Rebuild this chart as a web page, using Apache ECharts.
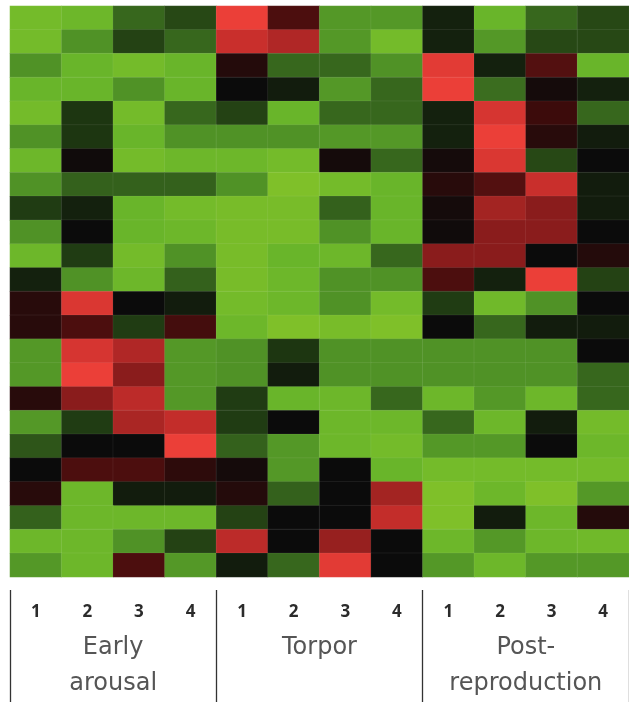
<!DOCTYPE html>
<html>
<head>
<meta charset="utf-8">
<script src="https://cdn.jsdelivr.net/npm/echarts@6/dist/echarts.min.js"></script>
<style>
html,body{margin:0;padding:0;background:#fff;}
#chart{width:629px;height:702px;}
</style>
</head>
<body>
<div id="chart"></div>
<script>
// Column tick labels (replicate number within each condition)
const columnLabels = ['1','2','3','4','1','2','3','4','1','2','3','4'];
// Condition groups spanning 4 columns each
const groupLabels = ['Early\narousal', 'Torpor', 'Post-\nreproduction'];
// Row identifiers (24 genes, top to bottom)
const rowLabels = ['r1','r2','r3','r4','r5','r6','r7','r8','r9','r10','r11','r12',
  'r13','r14','r15','r16','r17','r18','r19','r20','r21','r22','r23','r24'];
// Expression values per row (negative = green, positive = red), 12 columns each
const row01 = [-3.5,-3.3,-1.8,-1.3, 3.8, 1.2,-2.6,-2.6,-0.5,-3.2,-1.8,-1.3];
const row02 = [-3.5,-2.5,-1.2,-1.8, 3.0, 2.6,-2.6,-3.5,-0.5,-2.6,-1.3,-1.3];
const row03 = [-2.5,-3.2,-3.5,-3.2, 0.5,-1.8,-1.8,-2.5, 3.6,-0.5, 1.3,-3.2];
const row04 = [-3.2,-3.2,-2.5,-3.2, 0.0,-0.4,-2.6,-1.8, 3.8,-1.9, 0.2,-0.5];
const row05 = [-3.5,-1.0,-3.5,-1.8,-1.2,-3.2,-1.8,-1.8,-0.5, 3.3, 1.0,-1.8];
const row06 = [-2.5,-1.0,-3.2,-2.5,-2.5,-2.5,-2.6,-2.6,-0.5, 3.8, 0.6,-0.4];
const row07 = [-3.3, 0.1,-3.5,-3.3,-3.3,-3.5, 0.2,-1.8, 0.2, 3.4,-1.3, 0.0];
const row08 = [-2.5,-1.7,-1.7,-1.7,-2.5,-3.8,-3.5,-3.2, 0.6, 1.3, 3.0,-0.4];
const row09 = [-1.1,-0.5,-3.2,-3.5,-3.6,-3.6,-1.7,-3.2, 0.2, 2.4, 2.0,-0.4];
const row10 = [-2.5, 0.0,-3.2,-3.3,-3.6,-3.6,-2.5,-3.2, 0.1, 2.0, 2.0, 0.0];
const row11 = [-3.3,-1.1,-3.5,-2.5,-3.6,-3.2,-3.3,-1.8, 2.0, 2.0, 0.0, 0.5];
const row12 = [-0.5,-2.5,-3.3,-1.7,-3.6,-3.3,-2.5,-2.5, 1.2,-0.5, 3.8,-1.2];
const row13 = [ 0.6, 3.4, 0.0,-0.4,-3.5,-3.3,-2.5,-3.5,-1.1,-3.4,-2.5, 0.0];
const row14 = [ 0.6, 1.2,-1.1, 1.1,-3.3,-3.8,-3.6,-3.8, 0.0,-1.8,-0.4,-0.4];
const row15 = [-2.6, 3.3, 2.6,-2.6,-2.5,-1.0,-2.5,-2.5,-2.5,-2.5,-2.5, 0.0];
const row16 = [-2.6, 3.8, 2.0,-2.6,-2.5,-0.4,-2.5,-2.5,-2.5,-2.5,-2.5,-1.8];
const row17 = [ 0.6, 2.0, 2.8,-2.6,-1.1,-3.2,-3.3,-1.8,-3.3,-2.6,-3.3,-1.8];
const row18 = [-2.6,-1.1, 2.5, 2.9,-1.1, 0.0,-3.3,-3.3,-1.8,-3.3,-0.4,-3.5];
const row19 = [-1.5, 0.0, 0.0, 3.8,-1.7,-2.6,-3.3,-3.5,-2.6,-2.6, 0.0,-3.3];
const row20 = [ 0.0, 1.2, 1.2, 0.7, 0.2,-2.6, 0.0,-3.2,-3.5,-3.5,-3.5,-3.5];
const row21 = [ 0.6,-3.3,-0.4,-0.4, 0.5,-1.7, 0.0, 2.4,-3.8,-3.3,-3.8,-2.6];
const row22 = [-1.7,-3.3,-3.3,-3.3,-1.2, 0.0, 0.0, 2.9,-3.8,-0.4,-3.3, 0.5];
const row23 = [-3.3,-3.3,-2.5,-1.2, 2.8, 0.0, 2.2, 0.0,-3.3,-2.6,-3.3,-3.4];
const row24 = [-2.6,-3.3, 1.2,-2.6,-0.4,-1.8, 3.6, 0.0,-2.6,-3.3,-2.6,-2.6];

const rows = [row01,row02,row03,row04,row05,row06,row07,row08,row09,row10,row11,row12,
  row13,row14,row15,row16,row17,row18,row19,row20,row21,row22,row23,row24];

const data = [];
rows.forEach((r, yi) => r.forEach((v, xi) => data.push([xi, yi, v])));

const chart = echarts.init(document.getElementById('chart'), null, {renderer: 'canvas'});
const numFont = '"Open Sans", "Noto Sans", sans-serif';
const groupFont = '"DejaVu Sans", "Open Sans", sans-serif';
chart.setOption({
  animation: false,
  backgroundColor: '#ffffff',
  grid: {left: 10, top: 6, width: 620, height: 574},
  xAxis: [
    {
      type: 'category', data: columnLabels, position: 'bottom', gridIndex: 0,
      axisLine: {show: false}, axisTick: {show: false}, splitLine: {show: false},
      axisLabel: {margin: 27, color: '#2b2b2b', fontSize: 17, fontWeight: 'bold', fontFamily: numFont}
    },
    {
      type: 'category', data: groupLabels, position: 'bottom', gridIndex: 0, offset: 13,
      axisLine: {show: false},
      axisTick: {show: true, inside: false, length: 115, lineStyle: {color: '#333', width: 1.3}},
      splitLine: {show: false},
      axisLabel: {margin: 40, color: '#555', fontSize: 24, lineHeight: 36, fontFamily: groupFont}
    }
  ],
  yAxis: {
    type: 'category', data: rowLabels, inverse: true, show: false
  },
  visualMap: {
    show: false, min: -4, max: 4, dimension: 2, seriesIndex: 0,
    inRange: {color: ['#86c428','#62b12b','#3e7320','#1d3611','#0b0b0b','#3c0b0b','#8a1c1c','#c92f2c','#f3433b']}
  },
  series: [{
    type: 'heatmap', xAxisIndex: 0, data: data,
    itemStyle: {borderColor: 'rgba(255,255,255,0.12)', borderWidth: 0.6}
  }]
});
</script>
</body>
</html>
